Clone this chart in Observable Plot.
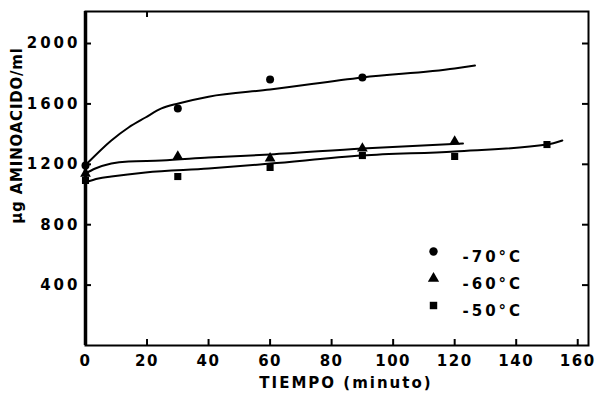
<!DOCTYPE html>
<html>
<head>
<meta charset="utf-8">
<script src="https://cdn.jsdelivr.net/npm/d3@7"></script>
<script src="https://cdn.jsdelivr.net/npm/@observablehq/plot@0.6"></script>
<style>
  html, body { margin: 0; padding: 0; background: #fff; }
  #chart { width: 596px; height: 394px; }
</style>
</head>
<body>
<div id="chart"></div>
<script>
// ---- data ----
const seriesNames = ["-70°C", "-60°C", "-50°C"];
const seriesSymbols = ["circle", "triangle", "square"];

// observed points (time in minutes, µg aminoácido/ml)
const obsTime70 = [0, 30, 60, 90];
const obsValue70 = [1192, 1570, 1762, 1775];
const obsTime60 = [0, 30, 60, 90, 120];
const obsValue60 = [1139, 1252, 1240, 1305, 1351];
const obsTime50 = [0, 30, 60, 90, 120, 150];
const obsValue50 = [1093, 1119, 1179, 1258, 1252, 1331];

// hand-drawn fitted curves
const curveTime70 = [0.5, 8.4, 14, 19.5, 24.7, 30.2, 40, 60, 90, 120, 126.6];
const curveValue70 = [1205, 1358, 1444, 1510, 1570, 1603, 1648, 1695, 1775, 1834, 1854];
const curveTime60 = [0, 3.2, 8.4, 14, 24.7, 40, 60, 90, 122.7];
const curveValue60 = [1139, 1172, 1205, 1219, 1225, 1245, 1265, 1305, 1338];
const curveTime50 = [0, 4.2, 8.4, 19.5, 40, 60, 90, 120, 150, 155];
const curveValue50 = [1080, 1106, 1119, 1146, 1172, 1205, 1258, 1285, 1331, 1358];

const xTicks = [0, 20, 40, 60, 80, 100, 120, 140, 160];
const yTicks = [400, 800, 1200, 1600, 2000];
const topTicks = [20];
const xLabel = "TIEMPO (minuto)";
const yLabel = "µg AMINOACIDO/ml";

// ---- build tables ----
const obsTimes = [obsTime70, obsTime60, obsTime50];
const obsValues = [obsValue70, obsValue60, obsValue50];
const curveTimes = [curveTime70, curveTime60, curveTime50];
const curveValues = [curveValue70, curveValue60, curveValue50];

const points = [];
const curves = [];
seriesNames.forEach((s, i) => {
  obsTimes[i].forEach((t, j) => points.push({series: s, symbol: seriesSymbols[i], t, v: obsValues[i][j]}));
  curveTimes[i].forEach((t, j) => curves.push({series: s, t, v: curveValues[i][j]}));
});

const W = 596, H = 394;
const mL = 85, mR = 8, mT = 11, mB = 49;
const frameW = W - mL - mR, frameH = H - mT - mB;
const tickLen = 6;

const legendMarks = [];
seriesNames.forEach((s, i) => {
  legendMarks.push(Plot.dot([s], {
    frameAnchor: "top-left", dx: 348, dy: 240 + i * 27,
    symbol: () => seriesSymbols[i], fill: "black", stroke: "none", r: 4.2
  }));
  legendMarks.push(Plot.text([s], {
    frameAnchor: "top-left", dx: 377, dy: 240 + i * 27,
    text: d => d, textAnchor: "start", fontSize: 15, fontWeight: "bold", fill: "black"
  }));
});

const chart = Plot.plot({
  width: W, height: H,
  marginLeft: mL, marginRight: mR, marginTop: mT, marginBottom: mB,
  x: {domain: [0, 163.5]},
  y: {domain: [0, 2212]},
  symbol: {domain: seriesSymbols, range: seriesSymbols},
  style: {fontFamily: "'DejaVu Sans', sans-serif", fontWeight: "bold", fontSize: "15px", background: "white", color: "black"},
  marks: [
    Plot.frame({stroke: "black", strokeWidth: 2}),
    Plot.ruleX([0], {stroke: "black", strokeWidth: 3.5}),
    // inward ticks
    Plot.tickY(yTicks, {y: d => d, insetRight: frameW - tickLen, stroke: "black", strokeWidth: 2}),
    Plot.tickY(yTicks, {y: d => d, insetLeft: frameW - tickLen, stroke: "black", strokeWidth: 2}),
    Plot.tickX(xTicks.slice(1), {x: d => d, insetTop: frameH - tickLen, stroke: "black", strokeWidth: 2}),
    Plot.tickX(topTicks, {x: d => d, insetBottom: frameH - tickLen, stroke: "black", strokeWidth: 2}),
    Plot.axisX(xTicks, {tickSize: 0, tickPadding: 10, label: null, tickFormat: d => String(d), fontSize: 15, fontWeight: "bold"}),
    Plot.axisY(yTicks, {tickSize: 0, tickPadding: 5, label: null, tickFormat: d => String(d), fontSize: 15, fontWeight: "bold"}),
    Plot.line(curves, {x: "t", y: "v", z: "series", curve: "monotone-x", stroke: "black", strokeWidth: 2}),
    Plot.dot(points, {x: "t", y: "v", symbol: "symbol", fill: "black", stroke: "none", r: 4}),
    ...legendMarks,
    Plot.text([yLabel], {frameAnchor: "left", textAnchor: "middle", dx: -68, dy: -43, rotate: -90, text: d => d, fontSize: 15, fontWeight: "bold", fill: "black"}),
    Plot.text([xLabel], {frameAnchor: "bottom", textAnchor: "middle", dx: 9, dy: 42, text: d => d, fontSize: 15, fontWeight: "bold", fill: "black"})
  ]
});

// widen the heavy scanned-looking lettering
const svg = d3.select(chart);
svg.selectAll('g[aria-label="x-axis tick label"] text').style("letter-spacing", "1.5px");
svg.selectAll('g[aria-label="y-axis tick label"] text').style("letter-spacing", "3px");
svg.selectAll("text").each(function() {
  const t = this.textContent;
  if (seriesNames.includes(t)) this.style.letterSpacing = "3px";
  else if (t === xLabel) this.style.letterSpacing = "2px";
  else if (t === yLabel) this.style.letterSpacing = "0.8px";
});
document.getElementById("chart").append(chart);
</script>
</body>
</html>
